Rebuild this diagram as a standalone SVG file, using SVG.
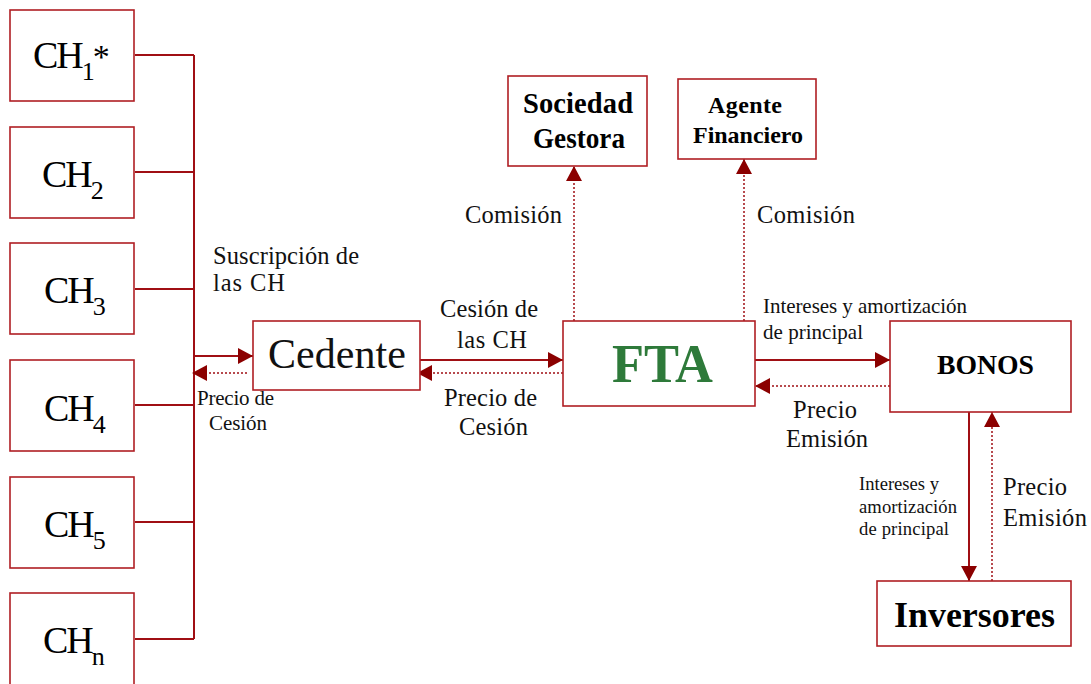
<svg xmlns="http://www.w3.org/2000/svg" width="1091" height="684" viewBox="0 0 1091 684">
<style>
.box{fill:#fff;stroke:#b01e24;stroke-width:1.6}
.ln{fill:none;stroke:#a00f14;stroke-width:2}
.dt{fill:none;stroke:#a00f14;stroke-width:1.5;stroke-dasharray:2 2}
.t{font-family:"Liberation Serif",serif;fill:#111}
.ch{font-family:"Liberation Serif",serif;font-size:38px;fill:#000;letter-spacing:-2px}
.b{font-family:"Liberation Serif",serif;font-weight:bold;fill:#000}
.l{font-size:24.5px}
.s{font-size:21px}
.xs{font-size:18.6px}
</style>
<defs>
<marker id="ah" viewBox="0 0 10 10" refX="10" refY="5" markerWidth="15" markerHeight="16" markerUnits="userSpaceOnUse" orient="auto" preserveAspectRatio="none"><path d="M0,0 L10,5 L0,10 Z" fill="#8b0000"/></marker>
</defs>
<g id="connectors">
<path class="ln" d="M135,55 H194 M135,172 H194 M135,289 H194 M135,405 H194 M135,522 H194 M135,639 H194 M194,55 V639"/>
<path class="ln" d="M194,356 H253" marker-end="url(#ah)"/>
<path class="dt" d="M247,373 H192" marker-end="url(#ah)"/>
<path class="ln" d="M417,360 H563" marker-end="url(#ah)"/>
<path class="dt" d="M563,373 H417" marker-end="url(#ah)"/>
<path class="dt" d="M574,321 V166" marker-end="url(#ah)"/>
<path class="dt" d="M744,321 V159" marker-end="url(#ah)"/>
<path class="ln" d="M755,360 H890" marker-end="url(#ah)"/>
<path class="dt" d="M890,386 H755" marker-end="url(#ah)"/>
<path class="ln" d="M969,412 V581" marker-end="url(#ah)"/>
<path class="dt" d="M992,581 V412" marker-end="url(#ah)"/>
</g>
<g id="ch1"><rect class="box" x="10" y="10" width="124" height="91"/><text class="ch" x="33" y="68">CH<tspan font-size="26" dy="12">1</tspan><tspan font-size="34" dy="-12">*</tspan></text></g>
<g id="ch2"><rect class="box" x="10" y="127" width="124" height="91"/><text class="ch" x="42" y="187">CH<tspan font-size="26" dy="12">2</tspan></text></g>
<g id="ch3"><rect class="box" x="10" y="243" width="124" height="91"/><text class="ch" x="44" y="303">CH<tspan font-size="26" dy="12">3</tspan></text></g>
<g id="ch4"><rect class="box" x="10" y="360" width="124" height="91"/><text class="ch" x="44" y="421">CH<tspan font-size="26" dy="12">4</tspan></text></g>
<g id="ch5"><rect class="box" x="10" y="477" width="124" height="91"/><text class="ch" x="44" y="537">CH<tspan font-size="26" dy="12">5</tspan></text></g>
<g id="chn"><rect class="box" x="10" y="593" width="124" height="100"/><text class="ch" x="43" y="653">CH<tspan font-size="26" dy="12">n</tspan></text></g>
<g id="cedente"><rect class="box" x="253" y="321" width="167" height="69"/><text class="t" x="268" y="368" font-size="42" textLength="138">Cedente</text></g>
<g id="fta"><rect class="box" x="563" y="321" width="192" height="85"/><text class="b" x="612" y="382" font-size="55" fill="#2e7a3a" style="fill:#2e7a3a" textLength="101" lengthAdjust="spacingAndGlyphs">FTA</text></g>
<g id="sociedad"><rect class="box" x="508" y="76" width="139" height="90"/><text class="b" x="523" y="113" font-size="28.5" textLength="110">Sociedad</text><text class="b" x="533" y="148" font-size="28.5" textLength="92" lengthAdjust="spacingAndGlyphs">Gestora</text></g>
<g id="agente"><rect class="box" x="678" y="79" width="138" height="80"/><text class="b" x="708" y="113" font-size="24" textLength="74">Agente</text><text class="b" x="693" y="143" font-size="24" textLength="110">Financiero</text></g>
<g id="bonos"><rect class="box" x="890" y="321" width="181" height="91"/><text class="b" x="937" y="374" font-size="28" textLength="97" lengthAdjust="spacingAndGlyphs">BONOS</text></g>
<g id="inversores"><rect class="box" x="877" y="581" width="194" height="65"/><text class="b" x="894" y="627" font-size="36" textLength="161" lengthAdjust="spacingAndGlyphs">Inversores</text></g>
<g id="labels">
<text class="t l" x="213" y="264" textLength="146">Suscripción de</text>
<text class="t l" x="213" y="291" textLength="72">las CH</text>
<text class="t s" x="197" y="405" textLength="77">Precio de</text>
<text class="t s" x="209" y="430" textLength="58">Cesión</text>
<text class="t l" x="440" y="317" textLength="98">Cesión de</text>
<text class="t l" x="457" y="348" textLength="70">las CH</text>
<text class="t l" x="444" y="406" textLength="93">Precio de</text>
<text class="t l" x="459" y="435" textLength="69">Cesión</text>
<text class="t l" x="465" y="223" textLength="97">Comisión</text>
<text class="t l" x="757" y="223" textLength="98">Comisión</text>
<text class="t s" x="763" y="313" textLength="204">Intereses y amortización</text>
<text class="t s" x="763" y="339" textLength="100">de principal</text>
<text class="t l" x="793" y="418" textLength="64">Precio</text>
<text class="t l" x="786" y="447" textLength="82">Emisión</text>
<text class="t xs" x="859" y="490" textLength="80">Intereses y</text>
<text class="t xs" x="859" y="513" textLength="98">amortización</text>
<text class="t xs" x="859" y="535" textLength="90">de principal</text>
<text class="t l" x="1003" y="495" textLength="64">Precio</text>
<text class="t l" x="1003" y="526" textLength="84">Emisión</text>
</g>
</svg>
